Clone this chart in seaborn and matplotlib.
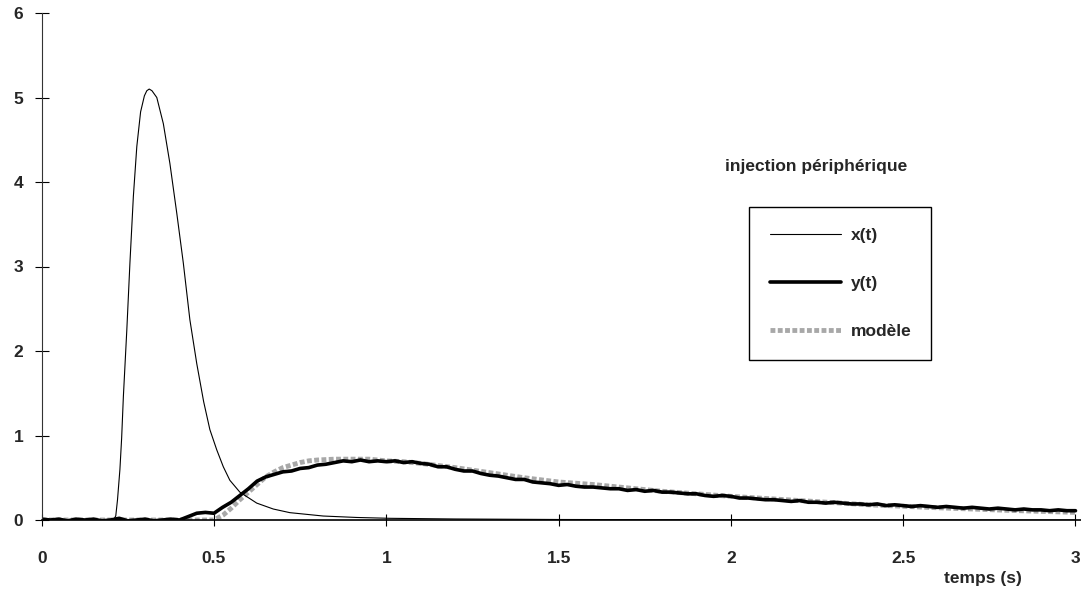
import numpy as np
import pandas as pd
import matplotlib
matplotlib.use("Agg")
import matplotlib.pyplot as plt
import seaborn as sns

# courbe d'entrée x(t)
t_x = [0.0, 0.1, 0.2, 0.21, 0.215, 0.22, 0.227, 0.232, 0.237, 0.247, 0.256, 0.266,
       0.276, 0.287, 0.298, 0.305, 0.312, 0.32, 0.334, 0.353, 0.372, 0.392, 0.411,
       0.43, 0.45, 0.47, 0.488, 0.508, 0.527, 0.546, 0.575, 0.624, 0.672, 0.72,
       0.817, 0.914, 1.01, 1.2, 1.5, 2.0, 2.5, 3.0]
x_val = [0.0, 0.0, 0.0, 0.01, 0.05, 0.24, 0.6, 0.97, 1.46, 2.25, 3.04, 3.83,
         4.42, 4.83, 5.02, 5.08, 5.10, 5.08, 5.0, 4.69, 4.22, 3.63, 3.04,
         2.37, 1.85, 1.40, 1.07, 0.83, 0.63, 0.47, 0.33, 0.20, 0.13, 0.087,
         0.047, 0.03, 0.02, 0.012, 0.006, 0.003, 0.0, 0.0]

# sortie mesurée y(t), pas de 0.025 s
t_y = [i * 0.025 for i in range(121)]
y_val = [0.01, 0.00, 0.01, -0.01, 0.01, 0.00, 0.01, -0.01, 0.00, 0.02,
         -0.01, 0.00, 0.01, -0.01, 0.00, 0.01, 0.00, 0.04, 0.08, 0.09,
         0.08, 0.15, 0.21, 0.29, 0.37, 0.46, 0.51, 0.54, 0.57, 0.58,
         0.61, 0.62, 0.65, 0.66, 0.68, 0.70, 0.69, 0.71, 0.69, 0.70,
         0.69, 0.70, 0.68, 0.69, 0.67, 0.66, 0.63, 0.63, 0.60, 0.58,
         0.58, 0.55, 0.53, 0.52, 0.50, 0.48, 0.48, 0.45, 0.44, 0.43,
         0.41, 0.42, 0.40, 0.39, 0.39, 0.38, 0.37, 0.37, 0.35, 0.36,
         0.34, 0.35, 0.33, 0.33, 0.32, 0.31, 0.31, 0.29, 0.28, 0.29,
         0.28, 0.26, 0.26, 0.25, 0.24, 0.24, 0.23, 0.22, 0.23, 0.21,
         0.21, 0.20, 0.21, 0.20, 0.19, 0.19, 0.18, 0.19, 0.17, 0.18,
         0.17, 0.16, 0.17, 0.16, 0.15, 0.16, 0.15, 0.14, 0.15, 0.14,
         0.13, 0.14, 0.13, 0.12, 0.13, 0.12, 0.12, 0.11, 0.12, 0.11, 0.11]

# modèle
t_m = [0.0, 0.5, 0.527, 0.55, 0.575, 0.6, 0.625, 0.65, 0.675, 0.7, 0.725, 0.75,
       0.775, 0.8, 0.85, 0.9, 0.95, 1.0, 1.05, 1.1, 1.2, 1.3, 1.4, 1.5, 1.6,
       1.7, 1.8, 1.9, 2.0, 2.2, 2.4, 2.6, 2.8, 3.0]
m_val = [0.0, 0.0, 0.06, 0.14, 0.24, 0.33, 0.42, 0.51, 0.57, 0.62, 0.65, 0.68,
         0.70, 0.71, 0.72, 0.72, 0.72, 0.70, 0.69, 0.67, 0.62, 0.56, 0.50, 0.45,
         0.42, 0.38, 0.34, 0.31, 0.28, 0.23, 0.18, 0.145, 0.115, 0.09]

sns.set_style("white")
plt.rcParams['font.family'] = ['Liberation Sans', 'DejaVu Sans']

fig = plt.figure(figsize=(10.81, 5.96), dpi=100)
ax = fig.add_axes([41.7 / 1081, 76 / 596, 1 - 41.7 / 1081, 507 / 596])

sns.lineplot(x=t_m, y=m_val, ax=ax, color='#a8a8a8', lw=3.5,
             linestyle=(0, (1, 0.5)), label='modèle', estimator=None, sort=False)
sns.lineplot(x=t_x, y=x_val, ax=ax, color='black', lw=0.8, label='x(t)',
             estimator=None, sort=False)
sns.lineplot(x=t_y, y=y_val, ax=ax, color='black', lw=2.6, label='y(t)',
             estimator=None, sort=False)

ax.set_xlim(0, 3.016)
ax.set_ylim(0, 6)
ax.set_xticks([0, 0.5, 1, 1.5, 2, 2.5, 3])
ax.set_xticklabels(['0', '0.5', '1', '1.5', '2', '2.5', '3'])
ax.set_yticks([0, 1, 2, 3, 4, 5, 6])
ax.tick_params(axis='both', direction='inout', color='black', width=0.8,
               labelsize=12.5, bottom=True, left=True)
ax.tick_params(axis='y', length=10.5, pad=8)
ax.tick_params(axis='x', length=8, pad=18)
for lab in ax.get_xticklabels() + ax.get_yticklabels():
    lab.set_fontweight('bold')

for s in ['top', 'right']:
    ax.spines[s].set_visible(False)
ax.spines['left'].set_linestyle((0, (2, 1)))
ax.spines['left'].set_linewidth(0.8)
ax.spines['left'].set_color('#333333')
ax.spines['bottom'].set_linewidth(1.2)
ax.spines['bottom'].set_color('black')

ax.set_xlabel('temps (s)', fontsize=12.5, fontweight='bold')
ax.xaxis.set_label_coords((983 - 41.7) / 1039.3, -0.1)
ax.set_ylabel('')

ax.text((816 - 41.7) / 1039.3, (520 - 167) / 507, 'injection périphérique',
        transform=ax.transAxes, ha='center', va='center', fontsize=12.5,
        fontweight='bold')

handles, labels = ax.get_legend_handles_labels()
order = [labels.index('x(t)'), labels.index('y(t)'), labels.index('modèle')]
leg = ax.legend([handles[i] for i in order], [labels[i] for i in order],
                loc='upper left', bbox_to_anchor=(0.6806, 0.617, 0.175, 0.0),
                mode='expand', frameon=True, fancybox=False, framealpha=1,
                edgecolor='black', handlelength=4.1, handletextpad=0.55,
                labelspacing=1.9, borderpad=1.2, borderaxespad=0,
                prop={'weight': 'bold', 'size': 12.5})
leg.get_frame().set_linewidth(1.0)

fig.savefig('out.png', dpi=100)
